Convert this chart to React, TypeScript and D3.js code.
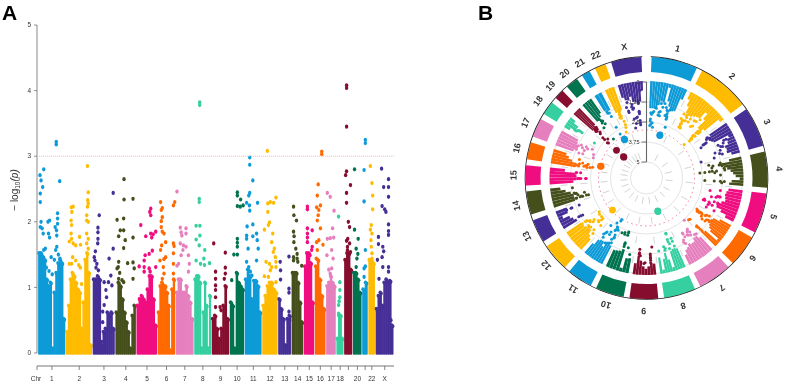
import React, { useRef, useEffect } from 'react';
import * as d3 from 'd3';

const CHR_LABELS = ['1','2','3','4','5','6','7','8','9','10','11','12','13','14','15','16','17','18','19','20','21','22','X'];
const AXIS_SKIP = ['19', '21']; // no room for these two under the Manhattan axis

const PALETTE = ['#0f9bd7','#ffbb00','#452f96','#44501e','#ef0a80','#ff6a00','#e67fbd','#34cfa0','#860b2e','#05734f'];

// relative chromosome widths, as drawn in panel A
const CHR_WIDTHS = [27,26,22,20.5,20.5,17.5,18,17,17.5,14.5,17,15.5,13,12,10.5,11,10,7.5,8.5,9,6,7,18];

// angle where each chromosome starts in panel B (degrees clockwise from 12 o'clock), plus the end
const CHR_ANGLES = [1,26,54,76,96,118,136,155,173,189.5,206,221,237,251,265,277.5,288.6,300.6,310,317.5,326.4,333.4,341.6,359];

// -log10(p) reached by the dense body of points, left to right along each chromosome
const BODY_TOPS: number[][] = [
  [1.5,1.5,1.45,1.4,1.1,1.0,1.05,0.05,0.9,1.2,1.35,1.4,1.35,0.5],
  [0.3,0.7,1.1,1.2,1.15,1.05,0.95,0.9,0.35,0.75,1.4,1.5,1.2,0.1],
  [1.1,1.1,1.15,1.1,0.1,0.3,0.35,0.6,0.55,0.6,0.35],
  [0.6,1.05,1.0,0.8,0.6,0.45,0.3,0.05,0.55,0.7],
  [0.7,0.8,0.85,0.8,0.75,0.95,1.15,1.15,0.8,0.4],
  [0.6,1.0,1.05,1.0,1.0,0.9,0.7,0.02,0.95,1.1],
  [0.9,1.1,1.1,0.9,0.9,1.0,0.85,0.75,0.5],
  [1.1,1.15,1.15,1.05,0.05,0.6,1.05,0.7,0.05,0.85],
  [0.5,0.55,0.35,0.2,0.35,0.7,1.0,0.5],
  [0.75,0.7,0.05,1.2,1.05,1.0,0.95],
  [1.1,1.25,1.15,0.8,1.08,1.08,1.0,0.6],
  [0.7,0.85,1.0,1.05,1.05,0.95,0.9],
  [0.8,0.65,0.5,0.1,0.5,0.55],
  [1.2,1.2,1.2,1.05,0.75,0.45],
  [1.3,1.5,1.5,1.35,0.75],
  [1.3,1.4,1.1,0.85,0.65],
  [1.0,1.05,1.15,1.05,1.0],
  [0.2,0.55,0.55,0.2],
  [1.4,1.5,1.5,1.25],
  [1.2,1.2,1.1,0.9],
  [0.95,1.05],
  [1.4,1.4,1.35],
  [0.65,0.85,0.9,0.7,1.05,1.1,1.05,1.08,0.4],
];

// scattered points above the body: [percent along the chromosome, -log10(p)]
const TOP_POINTS: [number, number][][] = [
  [[67,3.22],[67,3.18],[20,2.8],[6,2.71],[10,2.63],[16,2.53],[7,2.43],[7,2.3],[80,2.62],[10,2.0],[14,1.9],[7,1.92],[18,1.82],[42,2.02],[36,2.0],[38,1.82],[42,1.76],[72,2.13],[72,2.05],[72,1.97],[63,1.92],[68,1.87],[69,1.79],[26,1.59],[20,1.57],[48,1.46],[69,1.62],[65,1.57],[81,1.44],[30,1.3],[40,1.25],[52,1.2],[60,1.42],[75,1.5]],
  [[83,2.85],[86,2.45],[84,2.33],[86,2.28],[83,2.23],[80,2.02],[86,2.0],[80,2.1],[27,2.23],[20,2.22],[22,2.15],[19,2.02],[21,1.95],[19,1.82],[12,1.7],[21,1.74],[27,1.67],[37,1.64],[52,1.77],[56,1.65],[80,1.82],[86,1.74],[80,1.67],[86,1.59],[25,1.46],[37,1.41],[49,1.34],[21,1.36],[12,1.36],[55,1.3],[60,1.05]],
  [[29,2.1],[23,1.91],[23,1.84],[23,1.74],[22,1.67],[11,1.55],[6,1.46],[9,1.41],[75,1.44],[94,1.59],[94,2.44],[18,1.36],[14,1.3],[25,1.26],[52,1.08],[83,1.18],[72,1.08],[88,1.03],[60,0.96],[63,0.85],[52,0.73],[45,0.63],[45,0.47],[40,0.17]],
  [[42,2.65],[42,2.34],[87,2.35],[7,2.03],[40,2.05],[23,1.87],[40,1.87],[15,1.78],[48,1.72],[87,1.76],[40,1.6],[15,1.39],[60,1.37],[87,1.38],[7,1.29],[13,1.31],[20,1.22],[93,1.29],[87,1.13],[32,1.11],[40,1.08],[15,1.13]],
  [[70,2.2],[70,2.1],[65,2.15],[20,1.95],[12,1.32],[45,1.78],[70,1.82],[75,1.76],[95,1.85],[82,1.81],[62,1.51],[78,1.56],[42,1.49],[37,1.41],[37,1.31],[67,1.24],[95,1.31],[62,1.29],[37,1.24]],
  [[16,2.3],[26,2.21],[20,2.18],[26,2.07],[20,2.01],[100,2.3],[92,2.25],[20,1.92],[26,1.85],[36,1.82],[46,1.69],[22,1.64],[16,1.57],[12,1.41],[46,1.46],[36,1.43],[92,1.67],[96,1.63],[92,1.52],[32,1.31],[36,1.21],[92,1.36],[92,1.21],[26,1.13]],
  [[6,2.46],[25,1.91],[58,1.9],[30,1.84],[58,1.82],[34,1.79],[25,1.67],[43,1.64],[58,1.62],[72,1.49],[30,1.49],[40,1.57],[77,1.36],[6,1.33],[72,1.24],[15,1.36]],
  [[32,3.82],[32,3.78],[29,2.35],[29,2.3],[10,1.94],[33,1.94],[10,1.73],[33,1.79],[29,1.64],[63,1.57],[57,1.44],[10,1.41],[61,1.34],[92,1.37],[37,1.36]],
  [[10,1.67],[21,1.24],[21,1.13],[21,1.03],[21,0.96],[21,0.85],[21,0.7],[79,1.53],[79,1.3],[79,1.21],[73,1.13],[48,0.7],[54,0.65]],
  [[53,2.45],[53,2.4],[77,2.34],[53,2.24],[74,2.23],[95,2.25],[28,1.5],[53,1.5],[53,1.74],[53,1.68],[53,1.62],[12,1.11]],
  [[29,2.98],[29,2.87],[48,2.63],[29,2.44],[23,2.4],[10,2.29],[27,2.25],[77,2.29],[29,2.17],[13,1.93],[48,1.96],[10,1.79],[10,1.74],[48,1.78],[71,1.82],[75,1.72],[19,1.59],[81,1.59],[71,1.41],[10,1.39],[23,1.31],[33,1.24],[42,1.18]],
  [[33,3.08],[91,2.37],[75,2.29],[53,2.3],[36,2.28],[36,2.15],[47,1.99],[40,1.95],[13,1.88],[69,1.82],[62,1.69],[80,1.59],[73,1.54],[87,1.46],[24,1.39],[47,1.36],[62,1.31],[53,1.26],[13,1.17],[91,1.39],[91,1.31],[40,1.16],[91,1.08]],
  [[14,1.39],[17,1.26],[17,1.12],[86,1.47],[86,0.98],[86,0.92],[86,0.63],[92,0.5]],
  [[15,2.23],[18,2.1],[41,2.02],[15,1.85],[20,1.78],[35,1.59],[47,1.51],[15,1.46],[15,1.41],[53,1.39],[88,1.33],[47,1.44],[18,1.69]],
  [[33,2.23],[33,2.19],[33,1.9],[83,1.87],[33,1.82],[33,1.76],[33,1.69],[83,1.62],[77,1.57],[60,1.49]],
  [[66,3.07],[66,3.03],[31,2.57],[22,2.4],[16,2.22],[53,2.25],[37,2.18],[31,2.1],[22,2.02],[53,1.9],[16,1.69],[37,1.72],[78,1.65],[22,1.57],[12,1.44]],
  [[10,2.44],[42,2.38],[84,2.17],[68,1.9],[10,1.74],[42,1.75],[80,1.76],[58,1.57],[6,1.49],[74,1.44],[26,1.27],[58,1.29],[42,1.21]],
  [[29,2.08],[48,1.08],[48,0.96],[48,0.85],[38,0.79],[29,0.73],[29,0.6]],
  [[29,4.08],[29,4.04],[29,3.45],[28,2.77],[16,2.71],[80,2.56],[28,2.44],[28,2.29],[52,2.0],[68,1.92],[44,1.74],[28,1.71],[68,1.67],[40,1.62],[40,1.57],[80,1.54]],
  [[17,2.8],[17,1.88],[62,1.74],[37,1.59],[58,1.51],[46,1.44],[37,1.31]],
  [[58,3.25],[58,3.2],[33,2.79],[33,2.31],[58,1.57],[33,1.29],[58,1.32],[33,1.16]],
  [[28,2.85],[55,2.59],[67,2.4],[67,2.19],[44,1.95],[28,1.88],[55,1.82],[39,1.72],[44,1.62],[55,1.52],[55,1.44]],
  [[33,2.81],[73,2.65],[73,2.53],[45,2.53],[73,2.38],[36,2.24],[51,2.19],[58,2.15],[73,1.96],[73,1.86],[73,1.8],[15,1.77],[15,1.66],[40,1.62],[45,1.55],[9,1.42],[36,1.46],[40,1.31],[73,1.31],[73,1.24],[18,1.13],[87,0.5]],
];

const Y_TICKS = [0, 1, 2, 3, 4, 5];
const RADIAL_TICKS = [0, 1.25, 2.5, 3.75, 5];
const THRESHOLD = 3;

const WIDTH = 789;
const HEIGHT = 387;

export default function App() {
  const svgRef = useRef<SVGSVGElement>(null);

  useEffect(() => {
    document.body.style.margin = '0';
    const svg = d3.select(svgRef.current);
    svg.selectAll('*').remove();

    const color = (i: number) => PALETTE[i % PALETTE.length];
    const font = '"Liberation Sans", Arial, sans-serif';

    // the source is a soft raster, a slight blur gets the same feel
    svg.append('defs').append('filter').attr('id', 'soft')
      .append('feGaussianBlur').attr('stdDeviation', 0.35);

    const root = svg.append('g').attr('filter', 'url(#soft)');

    // ── Panel letters ──────────────────────────────────────────────────────────
    [['A', 2], ['B', 478]].forEach(([t, x]) => {
      svg.append('text').attr('x', x as number).attr('y', 20)
        .attr('font-family', font).attr('font-weight', 700).attr('font-size', 21)
        .attr('fill', '#000').text(t as string);
    });

    // ── A: Manhattan ───────────────────────────────────────────────────────────
    const a = root.append('g');
    const y = d3.scaleLinear().domain([0, 5]).range([353, 25]);
    const cumul = d3.cumsum(CHR_WIDTHS);
    const total = cumul[cumul.length - 1];
    const genome = d3.scaleLinear().domain([0, total]).range([38, 394]);

    a.append('line').attr('x1', 37).attr('x2', 37).attr('y1', 25).attr('y2', 353)
      .attr('stroke', '#b5b5b5').attr('stroke-width', 1.6);

    Y_TICKS.forEach(t => {
      a.append('line').attr('x1', 34).attr('x2', 37).attr('y1', y(t)).attr('y2', y(t))
        .attr('stroke', '#666').attr('stroke-width', 0.7);
      a.append('text').attr('x', 31).attr('y', y(t) + 2.2).attr('text-anchor', 'end')
        .attr('font-family', font).attr('font-size', 6.5).attr('fill', '#333').text(t);
    });

    const yLabel = a.append('text')
      .attr('transform', 'translate(18,190) rotate(-90)')
      .attr('text-anchor', 'middle')
      .attr('font-family', font).attr('font-size', 10).attr('fill', '#333');
    yLabel.append('tspan').text('− log');
    yLabel.append('tspan').attr('font-size', 6.5).attr('dy', 2).text('10');
    yLabel.append('tspan').attr('dy', -2).attr('font-style', 'italic').text('(p)');

    CHR_LABELS.forEach((_, i) => {
      const start = i === 0 ? 0 : cumul[i - 1];
      const x = d3.scaleLinear().domain([0, 100])
        .range([genome(start) + 0.4, genome(cumul[i]) - 0.8]);
      const tops = BODY_TOPS[i];
      const colW = 100 / tops.length;
      tops.forEach((top, k) => {
        const x0 = x(k * colW);
        const x1 = x((k + 1) * colW);
        a.append('rect')
          .attr('x', x0 - 0.3)
          .attr('y', y(top))
          .attr('width', x1 - x0 + 0.6)
          .attr('height', y(0) - y(top) + 1.8)
          .attr('rx', 1)
          .attr('fill', color(i));
        // knobbly top edge, the body is really a pile of dots
        [x0 + 0.5, x1 - 0.5].forEach((cxTop, e) => {
          a.append('ellipse').attr('cx', cxTop).attr('cy', y(top) - (e ? 0.5 : 1.5))
            .attr('rx', 1.7).attr('ry', 2).attr('fill', color(i));
        });
      });
      TOP_POINTS[i].forEach(([p, v]) => {
        a.append('ellipse').attr('cx', x(p)).attr('cy', y(v))
          .attr('rx', 1.7).attr('ry', 2.1).attr('fill', color(i));
      });
    });

    a.append('line').attr('x1', 37).attr('x2', 394).attr('y1', y(THRESHOLD)).attr('y2', y(THRESHOLD))
      .attr('stroke', '#f5b4bd').attr('stroke-width', 0.9).attr('stroke-dasharray', '1.2,0.8');

    // x axis
    a.append('line').attr('x1', 37).attr('x2', 394).attr('y1', 366).attr('y2', 366)
      .attr('stroke', '#555').attr('stroke-width', 0.8);
    a.append('line').attr('x1', 37).attr('x2', 37).attr('y1', 366).attr('y2', 370)
      .attr('stroke', '#555').attr('stroke-width', 0.7);
    a.append('text').attr('x', 36).attr('y', 381).attr('text-anchor', 'middle')
      .attr('font-family', font).attr('font-size', 6.5).attr('fill', '#333').text('Chr');
    CHR_LABELS.forEach((label, i) => {
      const start = i === 0 ? 0 : cumul[i - 1];
      const mid = genome((start + cumul[i]) / 2);
      a.append('line').attr('x1', mid).attr('x2', mid).attr('y1', 366).attr('y2', 370)
        .attr('stroke', '#555').attr('stroke-width', 0.7);
      if (AXIS_SKIP.includes(label)) return;
      a.append('text').attr('x', mid).attr('y', 381).attr('text-anchor', 'middle')
        .attr('font-family', font).attr('font-size', 6.5).attr('fill', '#333').text(label);
    });

    // ── B: circular Manhattan ──────────────────────────────────────────────────
    const cx = 646.5;
    const cy = 178;
    const b = root.append('g').attr('transform', `translate(${cx},${cy})`);
    const r = d3.scaleLinear().domain([0, 5]).range([96, 16]);
    const rad = (deg: number) => (deg * Math.PI) / 180;
    const arc = d3.arc();

    RADIAL_TICKS.forEach(t => {
      b.append('circle').attr('r', r(t)).attr('fill', 'none')
        .attr('stroke', '#dcdcdc').attr('stroke-width', 0.8);
    });

    // spokes at the chromosome boundaries
    CHR_ANGLES.slice(1, -1).forEach(deg => {
      const s = Math.sin(rad(deg));
      const c = -Math.cos(rad(deg));
      b.append('line')
        .attr('x1', s * r(5) * 1.2).attr('y1', c * r(5) * 1.2)
        .attr('x2', s * r(0.6)).attr('y2', c * r(0.6))
        .attr('stroke', '#cfcfcf').attr('stroke-width', 0.9).attr('stroke-dasharray', '7,13');
    });

    b.append('circle').attr('r', r(THRESHOLD)).attr('fill', 'none')
      .attr('stroke', '#ee6f85').attr('stroke-width', 0.9).attr('stroke-dasharray', '1.5,3.2');

    CHR_LABELS.forEach((label, i) => {
      const a0 = CHR_ANGLES[i];
      const a1 = CHR_ANGLES[i + 1];

      // outer ring sector
      b.append('path')
        .attr('d', arc({ innerRadius: 106, outerRadius: 121, startAngle: rad(a0 + 1.4), endAngle: rad(a1 - 1.4) }) as string)
        .attr('fill', color(i));

      // chromosome label, turned with the ring
      const mid = (a0 + a1) / 2;
      b.append('text')
        .attr('transform', `rotate(${mid}) translate(0,-130)`)
        .attr('text-anchor', 'middle')
        .attr('font-family', font).attr('font-size', 9).attr('font-weight', 700)
        .attr('fill', '#333').text(label);

      const angle = d3.scaleLinear().domain([0, 100]).range([a0 + 1.2, a1 - 1.2]);
      const tops = BODY_TOPS[i];
      const colW = 100 / tops.length;
      tops.forEach((top, k) => {
        b.append('path')
          .attr('d', arc({ innerRadius: r(top) - 2, outerRadius: r(0) + 1, startAngle: rad(angle(k * colW)), endAngle: rad(angle((k + 1) * colW) - 0.05) }) as string)
          .attr('fill', color(i));
      });
      TOP_POINTS[i].forEach(([p, v]) => {
        const t = rad(angle(p));
        b.append('circle')
          .attr('cx', Math.sin(t) * r(v)).attr('cy', -Math.cos(t) * r(v))
          .attr('r', v >= THRESHOLD ? 3.4 : 1.5)
          .attr('fill', color(i));
      });
    });

    // black edge on the ring, open at the top
    b.append('path')
      .attr('d', arc({ innerRadius: 121, outerRadius: 121.8, startAngle: rad(2), endAngle: rad(358) }) as string)
      .attr('fill', '#1a1a1a');

    // radial axis
    b.append('line').attr('x1', 0).attr('x2', 0).attr('y1', -r(0)).attr('y2', -r(5))
      .attr('stroke', '#666').attr('stroke-width', 1.1);
    RADIAL_TICKS.forEach(t => {
      b.append('line').attr('x1', -5).attr('x2', 0).attr('y1', -r(t)).attr('y2', -r(t))
        .attr('stroke', '#444').attr('stroke-width', 0.7);
      b.append('text').attr('x', -7).attr('y', -r(t) + 2).attr('text-anchor', 'end')
        .attr('font-family', font).attr('font-size', 5.5).attr('fill', '#333').text(t);
    });
  }, []);

  return (
    <svg
      ref={svgRef}
      width={WIDTH}
      height={HEIGHT}
      style={{ position: 'absolute', left: 0, top: 0, background: '#fff', display: 'block' }}
    />
  );
}
